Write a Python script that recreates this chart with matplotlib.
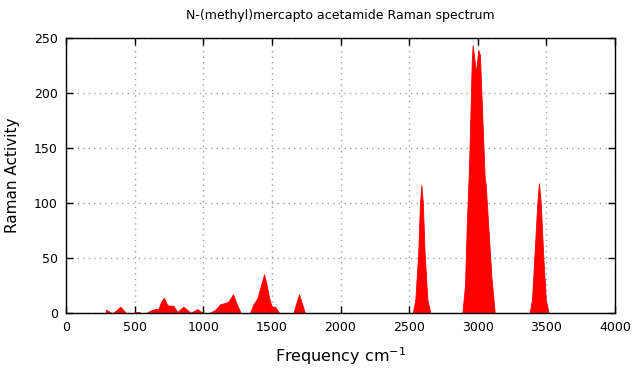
import numpy as np
import matplotlib
matplotlib.use("Agg")
import matplotlib.pyplot as plt

# outline of the spectrum: frequency (cm-1) / activity
spec_freq = [289, 291, 300, 315, 330, 345, 369, 396, 423, 437,
             500, 505, 520, 538, 542, 583, 612, 644, 673, 692, 714, 733,
             745, 782, 811, 855, 908, 957, 996,
             1044, 1086, 1122, 1158, 1183, 1217, 1244, 1273,
             1341, 1365, 1394, 1421, 1443, 1462, 1481, 1499, 1523, 1554,
             1656, 1681, 1698, 1715, 1741,
             2526, 2545, 2566, 2579, 2589, 2600, 2613, 2633, 2655,
             2888, 2907, 2920, 2936, 2949, 2956, 2963, 2987, 3004, 3016,
             3029, 3041, 3051, 3058, 3077, 3100, 3124,
             3378, 3395, 3412, 3434, 3446, 3459, 3478, 3496, 3516, 4000]
spec_act = [0.0, 3.0, 2.5, 1.2, 0.2, 0.3, 2.7, 5.7, 2.0, 0.0,
            0.0, 0.8, 0.9, 0.8, 0.0, 0.0, 2.0, 3.4, 3.6, 10.0, 14.0, 8.4,
            6.7, 6.7, 1.0, 5.7, 0.3, 3.6, 0.0,
            0.0, 2.7, 7.9, 9.1, 10.3, 17.0, 8.0, 0.0,
            0.0, 7.9, 13.3, 25.5, 35.2, 25.5, 13.3, 5.7, 5.7, 0.0,
            0.0, 10.3, 17.0, 10.3, 0.0,
            0.0, 12.0, 54.0, 100.0, 116.4, 100.0, 54.0, 12.0, 0.0,
            0.0, 25.5, 80.0, 131.5, 192.0, 228.0, 243.6, 219.0, 239.0, 234.5,
            192.0, 152.7, 122.4, 117.0, 78.0, 32.0, 0.0,
            0.0, 12.0, 50.0, 100.0, 118.0, 100.0, 50.0, 12.0, 0.0, 0.0]

x_ticks = [0, 500, 1000, 1500, 2000, 2500, 3000, 3500, 4000]
y_ticks = [0, 50, 100, 150, 200, 250]
title = "N-(methyl)mercapto acetamide Raman spectrum"

fig = plt.figure(figsize=(6.33, 3.74), dpi=100)
ax = fig.add_axes([66 / 633, 61 / 374, 549 / 633, 275 / 374])

ax.fill_between(spec_freq, 0, spec_act, color="red", lw=0.6, edgecolor="red")

ax.set_xlim(0, 4000)
ax.set_ylim(0, 250)
ax.set_xticks(x_ticks)
ax.set_yticks(y_ticks)
ax.grid(True, color="#a0a0a0", linestyle=(0, (1, 3)), linewidth=1.0)
ax.set_axisbelow(True)
ax.tick_params(direction="in", top=True, right=True, length=5, width=1,
               labelsize=9, pad=6)
for sp in ax.spines.values():
    sp.set_linewidth(1.0)

ax.set_title(title, fontsize=9, pad=14)
ax.set_xlabel("Frequency cm$^{-1}$", fontsize=11.5, labelpad=8)
ax.set_ylabel("Raman Activity", fontsize=11, labelpad=10)

fig.savefig("out.png", dpi=100)
